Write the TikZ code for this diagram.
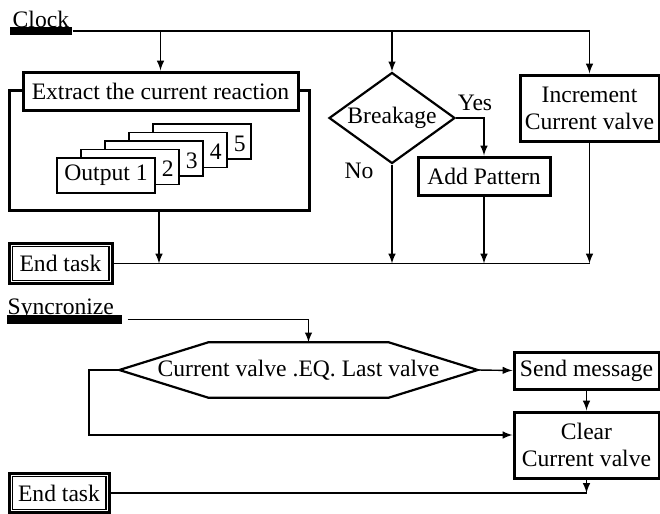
\documentclass[tikz,border=0pt]{standalone}
\usepackage{fontspec}
\setmainfont{Liberation Serif}
\usetikzlibrary{arrows}
\usetikzlibrary{shapes.geometric}

\begin{document}
\begin{tikzpicture}[x=0.5pt, y=-0.5pt,
  font=\fontsize{11.8pt}{13.5pt}\selectfont,
  line width=0.7pt,
  box/.style={rectangle, draw=black, line width=1.5pt, fill=white, inner sep=2pt, align=center},
  endbox/.style={rectangle, draw=black, line width=1.5pt, inner sep=2pt},
  inframe/.style={line width=0.6pt},
  page/.style={rectangle, draw=black, line width=0.7pt, fill=white, minimum width=49pt, minimum height=17.5pt, inner sep=0pt},
  bar/.style={rectangle, fill=black, inner sep=0pt},
  txt/.style={inner sep=0pt}]
\useasboundingbox (0,0) rectangle (660,514);

% clock part
\node [txt, anchor=base west] (CK) at (12,27) {Clock};
\node [bar, minimum width=31pt, minimum height=4pt] (CKbar) at (41,31) {};
\node [box, fill=none, minimum width=150pt, minimum height=60pt] (FR) at (159,150) {};
\node [box, minimum width=137.5pt, minimum height=19pt] (EX) at (160.5,91) {Extract the current reaction};
\foreach \k in {5,4,3,2} {
  \node [page] (P\k) at ({106+24*(\k-1)},{175.5-8.5*(\k-1)}) {};
  \node [txt] (N\k) at ([xshift=-6pt, yshift=-1pt]P\k.east) {\k};
}
\node [page] (P1) at (106,175.5) {Output 1};
\node [diamond, draw=black, line width=1.1pt, aspect=1.4, inner sep=0pt, minimum width=63pt, minimum height=45.5pt] (BR) at (392,118) {Breakage};
\node [txt] (YS) at (475,103) {Yes};
\node [txt] (NO) at (359,171) {No};
\node [box, minimum width=66pt, minimum height=19pt] (AP) at (484,176) {Add Pattern};
\node [box, minimum width=69.5pt, minimum height=33pt] (IN) at (589.5,108) {Increment\\Current valve};
\node [endbox, minimum width=51.5pt, minimum height=20pt] (ET1) at (60.5,263.5) {End task};
\draw [inframe] ([shift={(2.3pt,2.3pt)}]ET1.south west) rectangle ([shift={(-2.3pt,-2.3pt)}]ET1.north east);

\draw [-latex] (CKbar.east) -| (IN.north);
\draw [-latex] (CKbar.east -| EX.north) -- (EX.north);
\draw [-latex] (CKbar.east -| BR.north) -- (BR.north);
\draw [-latex] (BR.east) -| (AP.north);
\draw (ET1.east) -- (ET1.east -| IN.south);
\draw [-latex] (FR.south) -- (FR.south |- ET1.east);
\draw [-latex] (BR.south) -- (BR.south |- ET1.east);
\draw [-latex] (AP.south) -- (AP.south |- ET1.east);
\draw [-latex] (IN.south) -- (IN.south |- ET1.east);

% syncronize part
\node [txt, anchor=base west] (SY) at (7,314) {Syncronize};
\node [bar, minimum width=57.5pt, minimum height=4.5pt] (SYbar) at (64.5,319.5) {};
\node [txt, minimum width=178.5pt, minimum height=27pt] (EQ) at (298.5,370) {Current valve .EQ. Last valve};
\draw [line width=1.1pt] (EQ.west) -- ([xshift=44.5pt]EQ.north west) -- ([xshift=-44.5pt]EQ.north east)
  -- (EQ.east) -- ([xshift=-44.5pt]EQ.south east) -- ([xshift=44.5pt]EQ.south west) -- cycle;
\node [box, minimum width=72.5pt, minimum height=18.5pt] (SM) at (586.5,370.5) {Send message};
\node [box, minimum width=72.5pt, minimum height=33pt] (CL) at (586.5,445) {Clear\\Current valve};
\node [endbox, minimum width=50pt, minimum height=19.5pt] (ET2) at (59,493) {End task};
\draw [inframe] ([shift={(2.3pt,2.3pt)}]ET2.south west) rectangle ([shift={(-2.3pt,-2.3pt)}]ET2.north east);
\coordinate (LP) at (89,435);

\draw [-latex, shorten <=2.5pt] (SYbar.east) -| ([xshift=5pt]EQ.north);
\draw [-latex] (EQ.east) -- (SM.west);
\draw [-latex] (EQ.west) -| (LP) -- (LP -| CL.west);
\draw [-latex] (SM.south) -- (CL.north);
\draw (ET2.east) -- (ET2.east -| CL.south);
\draw [-latex] (CL.south) -- (CL.south |- ET2.east);
\end{tikzpicture}
\end{document}
